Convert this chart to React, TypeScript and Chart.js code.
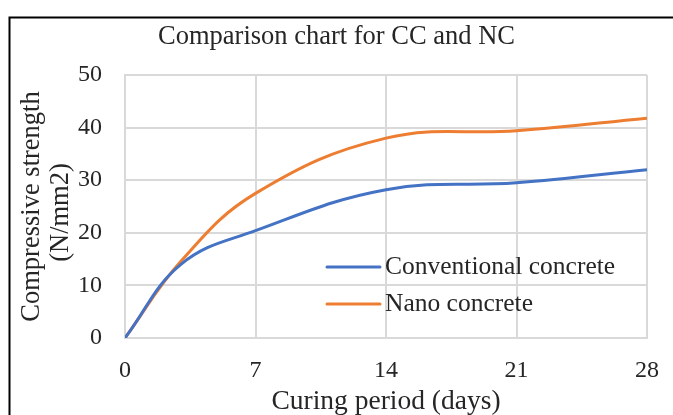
import React, { useEffect, useRef } from "react";
import { Chart, registerables } from "chart.js";
Chart.register(...registerables);

const days = [0, 3, 7, 14, 21, 28];
const conventional = [0, 14.0, 20.4, 28.2, 29.5, 32.0];
const nano = [0, 14.6, 27.5, 38.0, 39.4, 41.8];
const seriesLabels = ["Conventional concrete", "Nano concrete"];
const seriesColors = ["#4472C4", "#ED7D31"];
const chartTitle = "Comparison chart for CC and NC";
const xTitle = "Curing period (days)";
const yTitle = ["Compressive strength", "(N/mm2)"];

const FONT = "'Liberation Serif', 'DejaVu Serif', serif";
const TEXT = "#262626";

const decorPlugin = {
  id: "decor",
  beforeDraw(chart: any) {
    const { ctx, width, height } = chart;
    ctx.save();
    ctx.fillStyle = "#ffffff";
    ctx.fillRect(0, 0, width, height);
    ctx.restore();
  },
  afterDraw(chart: any) {
    const { ctx, chartArea } = chart;
    ctx.save();
    ctx.strokeStyle = "#000000";
    ctx.lineWidth = 2;
    ctx.beginPath();
    ctx.moveTo(9.5, 420);
    ctx.lineTo(9.5, 17.5);
    ctx.lineTo(680, 17.5);
    ctx.stroke();

    ctx.fillStyle = TEXT;
    ctx.font = `26.5px ${FONT}`;
    ctx.textAlign = "center";
    ctx.textBaseline = "alphabetic";
    ctx.fillText(chartTitle, chart.width / 2, 44);

    const cx = (chartArea.left + chartArea.right) / 2;
    ctx.font = `27.5px ${FONT}`;
    ctx.fillText(xTitle, cx, 409);

    const cy = (chartArea.top + chartArea.bottom) / 2;
    ctx.font = `26.5px ${FONT}`;
    ctx.save();
    ctx.translate(32, cy);
    ctx.rotate(-Math.PI / 2);
    ctx.textBaseline = "middle";
    ctx.fillText(yTitle[0], 0, 0);
    ctx.restore();
    ctx.save();
    ctx.translate(61, cy + 6);
    ctx.rotate(-Math.PI / 2);
    ctx.textBaseline = "middle";
    ctx.fillText(yTitle[1], 0, 0);
    ctx.restore();

    chart.data.datasets.forEach((ds: any, i: number) => {
      const ly = 267 + i * 37;
      ctx.strokeStyle = ds.borderColor;
      ctx.lineWidth = 3;
      ctx.lineCap = "round";
      ctx.beginPath();
      ctx.moveTo(327, ly);
      ctx.lineTo(380, ly);
      ctx.stroke();
      ctx.fillStyle = TEXT;
      ctx.font = `25.5px ${FONT}`;
      ctx.textAlign = "left";
      ctx.textBaseline = "middle";
      ctx.fillText(ds.label, 385, ly);
    });
    ctx.restore();
  },
};

export default function App() {
  const ref = useRef<HTMLCanvasElement | null>(null);
  useEffect(() => {
    if (!ref.current) return;
    const chart = new Chart(ref.current, {
      type: "scatter",
      data: {
        datasets: [conventional, nano].map((vals, i) => ({
          label: seriesLabels[i],
          data: days.map((d, j) => ({ x: d, y: vals[j] })),
          showLine: true,
          borderColor: seriesColors[i],
          backgroundColor: seriesColors[i],
          borderWidth: 3,
          pointRadius: 0,
          tension: 0.4,
        })),
      },
      options: {
        animation: false,
        responsive: false,
        devicePixelRatio: 1,
        layout: { padding: { top: 75, right: 26, left: 0, bottom: 0 } },
        plugins: { legend: { display: false }, title: { display: false }, tooltip: { enabled: false } },
        scales: {
          x: {
            type: "linear",
            min: 0,
            max: 28,
            ticks: { stepSize: 7, padding: 18, color: TEXT, font: { family: FONT, size: 24 } },
            grid: { color: "#d9d9d9", lineWidth: 2, drawTicks: false },
            border: { color: "#d9d9d9", width: 2 },
            afterFit: (s: any) => { s.height = 77; s.paddingLeft = 0; s.paddingRight = 0; },
          },
          y: {
            min: 0,
            max: 50,
            ticks: { stepSize: 10, padding: 23, color: TEXT, font: { family: FONT, size: 24 } },
            grid: { color: "#d9d9d9", lineWidth: 2, drawTicks: false },
            border: { color: "#d9d9d9", width: 2 },
            afterFit: (s: any) => { s.width = 125; s.paddingTop = 0; s.paddingBottom = 0; },
          },
        },
      },
      plugins: [decorPlugin],
    });
    return () => chart.destroy();
  }, []);
  return (
    <div style={{ position: "fixed", left: 0, top: 0, width: 673, height: 415 }}>
      <canvas ref={ref} width={673} height={415} style={{ display: "block", width: 673, height: 415 }} />
    </div>
  );
}
